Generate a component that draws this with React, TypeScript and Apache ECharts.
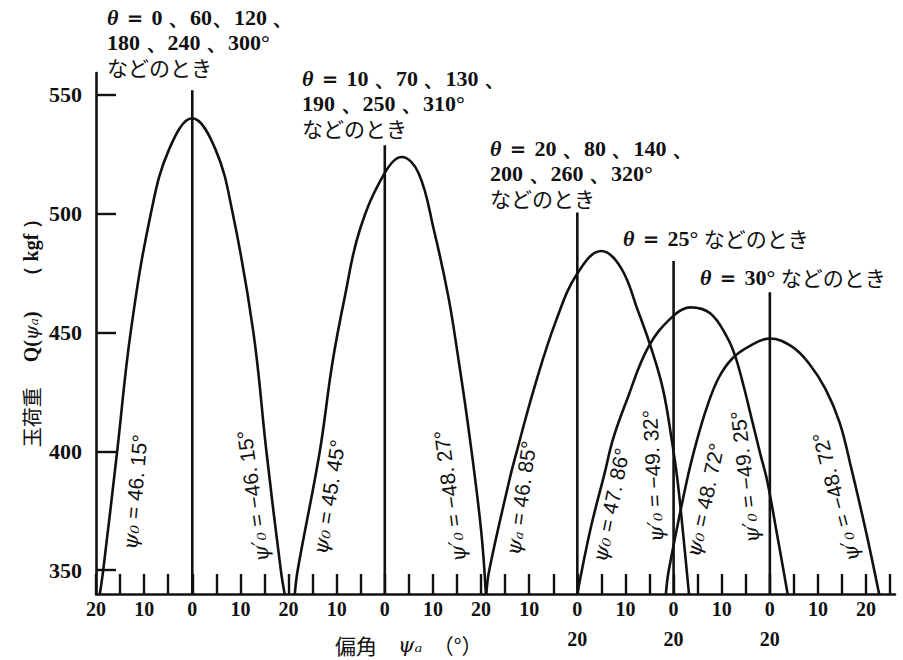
import React, { useEffect, useRef } from "react";
import * as echarts from "echarts";

// ---- axis data ----
const yTickValues = [350, 400, 450, 500, 550];
const xTickValues = [0, 5, 10, 15, 20, 25, 30, 35, 40, 45, 50, 55, 60, 65, 70, 75, 80, 85, 90, 95, 100, 105, 110, 115, 120, 125, 130, 135, 140, 145, 150, 155, 160, 165];
const xLabelValues = [0, 10, 20, 30, 40, 50, 60, 70, 80, 90, 100, 110, 120, 130, 140, 150, 160];
const xTickLabels = ["20", "10", "0", "10", "20", "10", "0", "10", "20", "10", "0\n20", "10", "0\n20", "10", "0\n20", "10", "20"];

// ---- curve data (psi offset from each curve's 0 position, load Q in kgf) ----
const curveCenters = [20, 60, 100, 120, 140];
const centerLineTops = [551.7, 528.6, 500.4, 480, 466.8];

const curve1Psi = [-19.2, -18.5, -15.6, -12.8, -8.6, -4.8, 0, 4.8, 8.4, 12.7, 15.4, 18.4, 19.2];
const curve1Q = [340, 350, 400, 450, 500, 527, 540, 527, 500, 450, 400, 350, 340];

const curve2Psi = [-18.7, -18.1, -13.5, -10.9, -8.3, -5.2, 0, 3.5, 7.0, 10.2, 13.2, 15.2, 17.5, 20.0, 21.0];
const curve2Q = [340, 350, 400, 437, 465, 493, 517, 523.7, 517, 493, 465, 440, 408, 367, 340];

const curve3Psi = [-18.9, -18.3, -14.1, -12.7, -8.9, -4.4, 0, 5.0, 9.1, 12.6, 15.4, 17.8, 19.6, 20.8, 21.9, 23.2];
const curve3Q = [340, 350, 388, 399, 427, 455, 474.7, 484.2, 477, 459, 443, 426, 405, 388, 367, 340];

const curve4Psi = [-20.0, -17.3, -14.3, -12.6, -9.8, -5.2, 0, 3.5, 7.6, 11.1, 12.8, 14.6, 16.3, 18.0, 19.4, 21.5, 23.7];
const curve4Q = [340, 367, 391, 405, 421, 444, 457, 460.5, 458, 448, 440, 427, 413, 399, 388, 365, 340];

const curve5Psi = [-21.6, -21.0, -17.2, -15.1, -13.0, -10.6, -7.8, -4.4, 0, 4.6, 8.1, 11.6, 14.5, 16.9, 20.0, 22.7];
const curve5Q = [340, 350, 388, 405, 419, 431, 439, 444, 447.4, 444, 437, 426, 412, 393, 366, 340];

const curvesPsi = [curve1Psi, curve2Psi, curve3Psi, curve4Psi, curve5Psi];
const curvesQ = [curve1Q, curve2Q, curve3Q, curve4Q, curve5Q];

// ---- annotations ----
const titleTexts = [
  "{t|θ}{n| ＝ 0 、60、120 、}\n{n|180 、240 、300°}\n{j|などのとき}",
  "{t|θ}{n| ＝ 10 、70 、130 、}\n{n|190 、250 、310°}\n{j|などのとき}",
  "{t|θ}{n| ＝ 20 、80 、140 、}\n{n|200 、260 、320°}\n{j|などのとき}",
  "{t|θ}{n| ＝ 25° }{j|などのとき}",
  "{t|θ}{n| ＝ 30° }{j|などのとき}",
];
const titleX = [107, 302, 490, 623, 700];
const titleY = [4.5, 65.5, 135.5, 225.5, 264.5];

const angleLabels = [
  "{p|ψ₀}{d| = 46. 15°}",
  "{p|ψ′₀}{d| = −46. 15°}",
  "{p|ψ₀}{d| = 45. 45°}",
  "{p|ψ′₀}{d| = −48. 27°}",
  "{p|ψₐ}{d| = 46. 85°}",
  "{p|ψ₀}{d| = 47. 86°}",
  "{p|ψ′₀}{d| = −49. 32°}",
  "{p|ψ₀}{d| = 48. 72°}",
  "{p|ψ′₀}{d| = −49. 25°}",
  "{p|ψ′₀}{d| = −48. 72°}",
];
const angleLabelX = [135, 253, 329, 450, 521, 611, 653, 705, 745, 836];
const angleLabelY = [492, 496, 497, 496, 498, 505, 476, 500, 477, 497];
const angleLabelRot = [85, 98, 81, 98, 82, 78.5, 93, 78, 96.5, 105];

const INK = "#111";
const SERIF = '"Liberation Serif", "DejaVu Serif", serif';
const CJK = '"Noto Sans CJK JP", "Noto Sans CJK SC", sans-serif';
const SANS = '"Liberation Sans", Arial, "DejaVu Sans", sans-serif';

export default function App() {
  const ref = useRef<HTMLDivElement | null>(null);

  useEffect(() => {
    if (!ref.current) return;
    const chart = echarts.init(ref.current, undefined, { renderer: "svg" });

    const curveSeries = curvesPsi.map((psi, ci) => ({
      type: "line",
      name: "curve" + (ci + 1),
      data: psi.map((p, i) => [curveCenters[ci] + p, curvesQ[ci][i]]),
      smooth: 0.4,
      symbol: "none",
      silent: true,
      lineStyle: { color: INK, width: 2.6 },
      z: 3,
    }));

    const centerSeries = curveCenters.map((c, ci) => ({
      type: "line",
      name: "center" + (ci + 1),
      data: [
        [c, 340],
        [c, centerLineTops[ci]],
      ],
      symbol: "none",
      silent: true,
      lineStyle: { color: INK, width: 2.6 },
      z: 3,
    }));

    const titleRich = {
      n: { fontFamily: SERIF, fontWeight: "bold", fontSize: 22, lineHeight: 25, fill: INK, color: INK },
      t: { fontFamily: SERIF, fontStyle: "italic", fontWeight: "bold", fontSize: 22, lineHeight: 25, fill: INK, color: INK },
      j: { fontFamily: CJK, fontSize: 21, lineHeight: 25, fill: INK, color: INK },
    };
    const labelRich = {
      p: { fontFamily: '"DejaVu Serif", serif', fontStyle: "italic", fontSize: 21, fill: INK, color: INK },
      d: { fontFamily: SANS, fontSize: 21, fill: INK, color: INK },
    };

    const graphics: any[] = [];
    titleTexts.forEach((t, i) => {
      graphics.push({
        type: "text",
        x: titleX[i],
        y: titleY[i],
        silent: true,
        style: { text: t, rich: titleRich, align: "left", verticalAlign: "top", fill: INK },
      });
    });
    angleLabels.forEach((t, i) => {
      graphics.push({
        type: "text",
        x: angleLabelX[i],
        y: angleLabelY[i],
        rotation: (angleLabelRot[i] * Math.PI) / 180,
        silent: true,
        style: { text: t, rich: labelRich, align: "center", verticalAlign: "middle", fill: INK },
      });
    });
    // y axis name
    graphics.push({
      type: "text",
      x: 31,
      y: 328,
      rotation: Math.PI / 2,
      silent: true,
      style: {
        text: "{j|玉荷重}{b|　 Q(}{p|ψₐ}{b|)　 （ kgf ）}",
        rich: {
          j: { fontFamily: CJK, fontSize: 20, fill: INK, color: INK },
          b: { fontFamily: SERIF, fontWeight: "bold", fontSize: 20, fill: INK, color: INK },
          p: { fontFamily: '"DejaVu Serif", serif', fontStyle: "italic", fontSize: 19, fill: INK, color: INK },
        },
        align: "center",
        verticalAlign: "middle",
        fill: INK,
      },
    });
    // x axis name
    graphics.push({
      type: "text",
      x: 335,
      y: 645,
      silent: true,
      style: {
        text: "{j|偏角}{j|　}{p|ψₐ}{j|　（°）}",
        rich: {
          j: { fontFamily: CJK, fontSize: 21, fill: INK, color: INK },
          p: { fontFamily: '"DejaVu Serif", serif', fontStyle: "italic", fontSize: 21, fill: INK, color: INK },
        },
        align: "left",
        verticalAlign: "middle",
        fill: INK,
      },
    });

    chart.setOption({
      animation: false,
      backgroundColor: "#ffffff",
      grid: { left: 96, right: 8, top: 73, bottom: 66, containLabel: false },
      xAxis: {
        type: "value",
        min: 0,
        max: 166,
        splitLine: { show: false },
        axisLine: { show: true, onZero: false, lineStyle: { color: INK, width: 2.6 } },
        axisTick: {
          show: true,
          inside: true,
          length: 20,
          customValues: xTickValues,
          lineStyle: { color: INK, width: 2.4 },
        },
        axisLabel: {
          show: true,
          customValues: xLabelValues,
          margin: 0,
          fontFamily: SERIF,
          fontWeight: "bold",
          fontSize: 20,
          lineHeight: 30,
          color: INK,
          formatter: (v: number) => {
            const i = xLabelValues.indexOf(Math.round(v));
            return i >= 0 ? xTickLabels[i] : "";
          },
        },
      },
      yAxis: {
        type: "value",
        min: 340,
        max: 559,
        splitLine: { show: false },
        axisLine: { show: true, onZero: false, lineStyle: { color: INK, width: 2.6 } },
        axisTick: {
          show: true,
          inside: true,
          length: 20,
          customValues: yTickValues,
          lineStyle: { color: INK, width: 2.4 },
        },
        axisLabel: {
          show: true,
          customValues: yTickValues,
          margin: 14,
          fontFamily: SERIF,
          fontWeight: "bold",
          fontSize: 22,
          color: INK,
        },
      },
      series: [...centerSeries, ...curveSeries],
      graphic: graphics,
    });

    return () => {
      chart.dispose();
    };
  }, []);

  return (
    <div
      ref={ref}
      style={{ position: "fixed", left: 0, top: 0, width: 903, height: 660, background: "#fff" }}
    />
  );
}
